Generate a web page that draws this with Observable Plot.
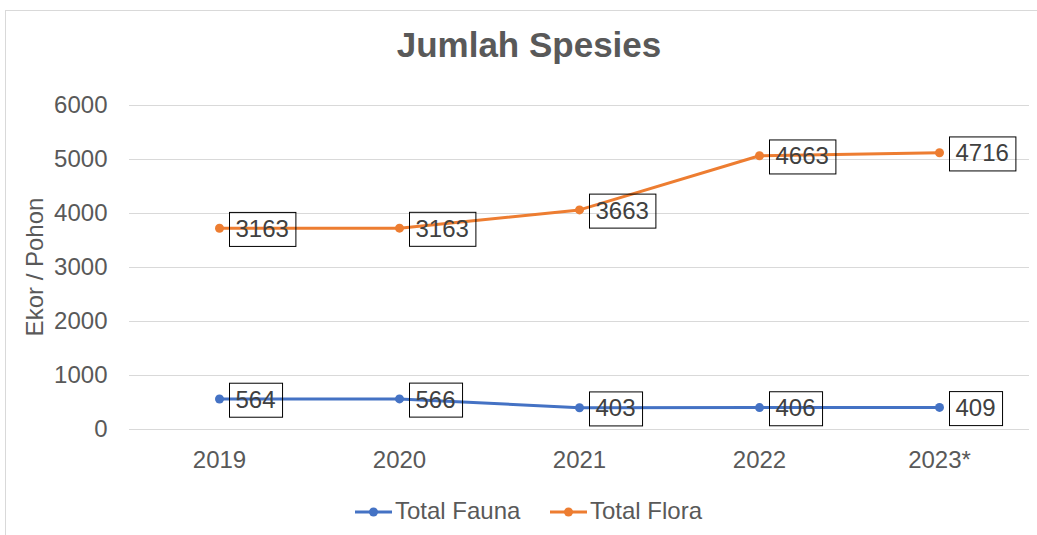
<!DOCTYPE html>
<html><head><meta charset="utf-8">
<script src="https://cdn.jsdelivr.net/npm/d3@7"></script>
<script src="https://cdn.jsdelivr.net/npm/@observablehq/plot@0.6"></script>
<style>
html,body{margin:0;padding:0;background:#fff;}
#chart{width:1037px;height:535px;overflow:hidden;}
</style></head>
<body><div id="chart"></div>
<script>
const years = ["2019", "2020", "2021", "2022", "2023*"];
const fauna = [564, 566, 403, 406, 409];
const flora = [3163, 3163, 3663, 4663, 4716];
const seriesNames = ["Total Fauna", "Total Flora"];
const seriesColors = ["#4472C4", "#ED7D31"];
const yTicks = [0, 1000, 2000, 3000, 4000, 5000, 6000];

const rows = [];
years.forEach((y, i) => rows.push({year: y, series: seriesNames[0], value: fauna[i]}));
years.forEach((y, i) => rows.push({year: y, series: seriesNames[1], value: flora[i]}));

const font = "'Liberation Sans', Arial, sans-serif";
const W = 1037, H = 535;

const plot = Plot.plot({
  width: W, height: H,
  marginTop: 105, marginBottom: 106, marginLeft: 129, marginRight: 8,
  style: {fontFamily: font, fontSize: "24px", color: "#595959", background: "#fff"},
  x: {type: "point", domain: years, padding: 0.5, label: null},
  y: {domain: [0, 6000], label: null},
  color: {domain: seriesNames, range: seriesColors},
  marks: [
    Plot.gridY(yTicks, {stroke: "#d9d9d9", strokeOpacity: 1, strokeWidth: 1}),
    Plot.axisY(yTicks, {tickSize: 0, tickPadding: 22, label: null, fill: "#595959", fontSize: 24, tickFormat: d => String(d)}),
    Plot.axisX(years, {tickSize: 0, tickPadding: 21, label: null, fill: "#595959", fontSize: 24}),
    Plot.lineY(rows, Plot.stackY2({x: "year", y: "value", z: "series", stroke: "series", strokeWidth: 3})),
    Plot.dot(rows, Plot.stackY2({x: "year", y: "value", z: "series", fill: "series", r: 4.5})),
    Plot.text(rows, Plot.stackY2({x: "year", y: "value", z: "series", text: d => String(d.value),
      textAnchor: "start", dx: 16, dy: 1, fill: "#404040", fontSize: 24, className: "dlabel"}))
  ]
});
document.getElementById("chart").appendChild(plot);

const svg = d3.select(plot);
// boxes around data labels
svg.selectAll("g.dlabel text").each(function() {
  const b = this.getBBox();
  const t = this.getAttribute("transform");
  const r = d3.select(this.parentNode).insert("rect", () => this)
    .attr("x", b.x - 6).attr("y", b.y + b.height/2 - 17 + 1)
    .attr("width", b.width + 13).attr("height", 34)
    .attr("fill", "none").attr("stroke", "#000").attr("stroke-width", 1);
  if (t) r.attr("transform", t);
});

// border
svg.append("rect").attr("x", 5.5).attr("y", 10.5).attr("width", 1200).attr("height", 800)
  .attr("fill", "none").attr("stroke", "#d9d9d9");
// title
svg.append("text").attr("x", 529).attr("y", 57).attr("text-anchor", "middle")
  .attr("font-family", font).attr("font-size", 35).attr("font-weight", "bold")
  .attr("fill", "#595959").text("Jumlah Spesies");
// y label
svg.append("text").attr("transform", "translate(43,267) rotate(-90)").attr("text-anchor", "middle")
  .attr("font-family", font).attr("font-size", 24).attr("fill", "#595959").text("Ekor / Pohon");
// legend
const legX = [355, 550];
seriesNames.forEach((s, i) => {
  const x0 = legX[i];
  svg.append("line").attr("x1", x0).attr("x2", x0 + 37).attr("y1", 512).attr("y2", 512)
    .attr("stroke", seriesColors[i]).attr("stroke-width", 3);
  svg.append("circle").attr("cx", x0 + 18.5).attr("cy", 512).attr("r", 4.5).attr("fill", seriesColors[i]);
  svg.append("text").attr("x", x0 + 40).attr("y", 519).attr("text-anchor", "start")
    .attr("font-family", font).attr("font-size", 24)
    .attr("fill", "#595959").text(s);
});
</script></body></html>
